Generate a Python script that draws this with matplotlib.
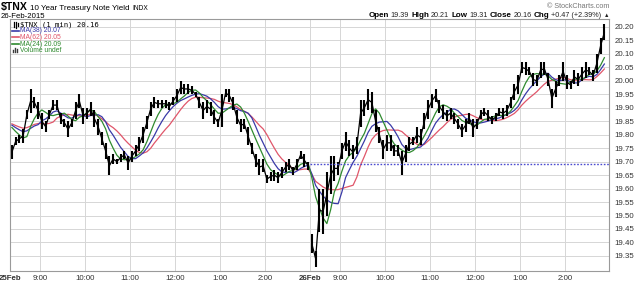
import numpy as np
import pandas as pd
import matplotlib
matplotlib.use('Agg')
import matplotlib.pyplot as plt

# 5-minute high / low of the 1-min $TNX bars
# 25-Feb, 8:20 am - 3:00 pm
hi_25 = [19.76, 19.79, 19.80, 19.82, 19.89, 19.97, 19.94, 19.92, 19.88, 19.85,
         19.89, 19.93, 19.93, 19.88, 19.86, 19.85, 19.86, 19.92, 19.95, 19.90,
         19.90, 19.92, 19.89, 19.86, 19.81, 19.77, 19.72, 19.73, 19.71, 19.73,
         19.74, 19.72, 19.74, 19.76, 19.79, 19.83, 19.87, 19.92, 19.94, 19.93,
         19.93, 19.93, 19.92, 19.94, 19.97, 20.00, 19.99, 19.99, 19.98, 19.96,
         19.94, 19.92, 19.93, 19.92, 19.89, 19.86, 19.95, 19.97, 19.97, 19.94,
         19.89, 19.86, 19.86, 19.83, 19.77, 19.73, 19.71, 19.71, 19.65, 19.66,
         19.67, 19.66, 19.68, 19.70, 19.71, 19.68, 19.71, 19.74, 19.73, 19.70]
lo_25 = [19.71, 19.76, 19.77, 19.77, 19.86, 19.88, 19.90, 19.86, 19.82, 19.81,
         19.86, 19.89, 19.89, 19.84, 19.83, 19.79, 19.83, 19.86, 19.90, 19.84,
         19.86, 19.87, 19.83, 19.80, 19.76, 19.71, 19.65, 19.69, 19.69, 19.70,
         19.71, 19.67, 19.70, 19.72, 19.74, 19.77, 19.82, 19.87, 19.90, 19.90,
         19.90, 19.90, 19.89, 19.91, 19.92, 19.95, 19.95, 19.95, 19.95, 19.94,
         19.90, 19.86, 19.88, 19.87, 19.84, 19.83, 19.83, 19.94, 19.92, 19.89,
         19.84, 19.81, 19.82, 19.76, 19.73, 19.68, 19.65, 19.66, 19.62, 19.63,
         19.63, 19.62, 19.64, 19.66, 19.67, 19.65, 19.67, 19.71, 19.68, 19.67]

# 26-Feb, 8:20 am - about 2:55 pm
hi_26 = [19.43, 19.37, 19.60, 19.60, 19.66, 19.72, 19.72, 19.70, 19.77, 19.81,
         19.78, 19.76, 19.79, 19.93, 19.93, 19.97, 19.96, 19.89, 19.83, 19.78,
         19.80, 19.80, 19.76, 19.76, 19.74, 19.76, 19.79, 19.79, 19.83, 19.82,
         19.88, 19.93, 19.95, 19.97, 19.93, 19.91, 19.89, 19.90, 19.88, 19.86,
         19.84, 19.86, 19.88, 19.86, 19.86, 19.89, 19.90, 19.89, 19.87, 19.88,
         19.90, 19.90, 19.91, 19.94, 19.99, 20.02, 20.07, 20.07, 20.05, 20.03,
         20.02, 20.07, 20.07, 20.03, 19.97, 20.00, 20.02, 20.07, 20.02, 20.00,
         20.04, 20.03, 20.05, 20.07, 20.05, 20.04, 20.10, 20.16, 20.21]
lo_26 = [19.36, 19.31, 19.44, 19.43, 19.50, 19.58, 19.63, 19.65, 19.71, 19.74,
         19.72, 19.71, 19.73, 19.83, 19.87, 19.89, 19.88, 19.81, 19.77, 19.71,
         19.74, 19.74, 19.72, 19.72, 19.65, 19.70, 19.74, 19.76, 19.77, 19.76,
         19.82, 19.86, 19.90, 19.92, 19.88, 19.86, 19.85, 19.86, 19.84, 19.82,
         19.79, 19.81, 19.84, 19.79, 19.82, 19.86, 19.87, 19.85, 19.84, 19.85,
         19.87, 19.86, 19.87, 19.90, 19.93, 19.95, 20.03, 20.02, 20.02, 19.98,
         19.98, 20.01, 20.02, 19.98, 19.90, 19.94, 19.98, 20.00, 19.97, 19.97,
         19.99, 19.98, 20.00, 20.01, 20.02, 20.00, 20.03, 20.10, 20.15]

ma_start = 19.85      # level of the averages at the left edge
prev_close = 19.69    # dotted line on 26-Feb

tick_pos = [0, 40, 100, 160, 220, 280, 340, 400, 440, 500, 560, 620, 680, 740]
tick_lab = ['25Feb', '9:00', '10:00', '11:00', '12:00', '1:00', '2:00',
            '26Feb', '9:00', '10:00', '11:00', '12:00', '1:00', '2:00']

# minutes from 25-Feb 8:20 (each session is 400 min wide)
x25 = np.arange(len(hi_25)) * 5 + 2.5
x26 = 400 + np.arange(len(hi_26)) * 5 + 2.5
hi = np.array(hi_25 + hi_26)
lo = np.array(lo_25 + lo_26)
xx = np.concatenate([x25, x26])
mid = pd.Series([ma_start] * 12 + list((hi + lo) / 2))

ma24 = mid.rolling(5).mean().iloc[12:].values
ma38 = mid.rolling(8).mean().iloc[12:].values
ma62 = mid.rolling(12).mean().iloc[12:].values

W, H = 640, 284
fig = plt.figure(figsize=(W / 100, H / 100), dpi=100)
fig.patch.set_facecolor('white')
ax = fig.add_axes([10 / W, 1 - 271 / H, 599 / W, 252 / H])

ax.set_xlim(0, 798.7)
ax.set_ylim(19.294, 20.2297)

yt = np.round(np.arange(19.35, 20.201, 0.05), 2)
ax.set_yticks(yt)
ax.set_yticklabels(['%.2f' % v for v in yt])
ax.yaxis.tick_right()
ax.set_xticks(tick_pos)
ax.set_xticklabels(tick_lab)
for lab in ax.get_xticklabels():
    if 'Feb' in lab.get_text():
        lab.set_fontweight('bold')
ax.tick_params(axis='both', length=0, labelsize=5.7, colors='#333333')
ax.tick_params(axis='y', pad=4)
ax.tick_params(axis='x', pad=3)
for lab in ax.get_xticklabels() + ax.get_yticklabels():
    lab.set_family('Liberation Sans')

ax.grid(True, color='#d6d6d6', lw=0.7)
ax.set_axisbelow(True)
for s in ax.spines.values():
    s.set_color('#9a9a9a')
    s.set_linewidth(0.8)

# moving averages
ax.plot(xx, ma62, color='#e0566a', lw=0.9)
ax.plot(xx, ma38, color='#3a3aa8', lw=0.9)
ax.plot(xx, ma24, color='#2f8a2f', lw=0.9)

# price bars
ax.vlines(xx, lo, hi, color='black', lw=1.5)
ax.plot(x25, (np.array(hi_25) + np.array(lo_25)) / 2, color='black', lw=0.9)
ax.plot(x26, (np.array(hi_26) + np.array(lo_26)) / 2, color='black', lw=0.9)

ax.hlines(prev_close, 400, 798.7, colors='#4a4ad0', lw=1.0, linestyles=(0, (1.2, 1.2)))

# header texts
fig.canvas.draw()
rend = fig.canvas.get_renderer()


def put_row(x, y, parts, right=False):
    objs = []
    cx = x
    for s, size, weight, color, gap in parts:
        t = fig.text(cx / W, 1 - y / H, s, fontsize=size, fontweight=weight,
                     color=color, family='Liberation Sans', va='baseline')
        cx += t.get_window_extent(rend).width + gap
        objs.append(t)
    if right:
        shift = cx - x
        for t in objs:
            px, py = t.get_position()
            t.set_position((px - shift / W, py))


put_row(1, 10, [('$TNX', 7.6, 'bold', 'black', 2.5),
                ('10 Year Treasury Note Yield', 5.8, 'normal', 'black', 2.5),
                ('INDX', 4.8, 'normal', 'black', 0)])
fig.text(1 / W, 1 - 17.5 / H, '26-Feb-2015', fontsize=5.6, family='Liberation Sans',
         va='baseline', color='black')
put_row(609, 8, [('\u00a9 StockCharts.com', 5.2, 'normal', '#777777', 0)], right=True)
put_row(609, 17, [('Open', 5.8, 'bold', 'black', 1.5), ('19.39', 5.2, 'normal', '#222222', 2.5),
                  ('High', 5.8, 'bold', 'black', 1.5), ('20.21', 5.2, 'normal', '#222222', 2.5),
                  ('Low', 5.8, 'bold', 'black', 1.5), ('19.31', 5.2, 'normal', '#222222', 2.5),
                  ('Close', 5.8, 'bold', 'black', 1.5), ('20.16', 5.2, 'normal', '#222222', 2.5),
                  ('Chg', 5.8, 'bold', 'black', 1.5), ('+0.47 (+2.39%)', 5.2, 'normal', '#222222', 2),
                  ('\u25b2', 4.0, 'normal', '#222222', 0)], right=True)

# legend inside the plot
lx = 12
for i, (b, t) in enumerate([(22, 26.5), (21.5, 27.5), (23, 26)]):
    fig.add_artist(plt.Line2D([(lx + 1.5 + i * 2) / W] * 2, [1 - t / H, 1 - b / H],
                              color='black', lw=0.9))
fig.text(20 / W, 1 - 26.5 / H, '$TNX (1 min) 20.16', fontsize=5.2,
         family='DejaVu Sans Mono', va='baseline', color='black')
leg = [('MA(38) 20.07', '#3a3aa8', 32.5), ('MA(62) 20.05', '#e0566a', 39),
       ('MA(24) 20.09', '#2f8a2f', 45.5)]
for txt, col, y in leg:
    fig.add_artist(plt.Line2D([lx / W, 19 / W], [1 - (y - 2) / H] * 2, color=col, lw=1.2))
    fig.text(20 / W, 1 - y / H, txt, fontsize=4.9, family='Liberation Sans',
             va='baseline', color=col)
for i, hgt in enumerate([2, 4, 3]):
    fig.add_artist(plt.Line2D([(lx + 1 + i * 2) / W] * 2, [1 - 52 / H, 1 - (52 - hgt) / H],
                              color='#3a3a3a', lw=1.0))
fig.text(20 / W, 1 - 52 / H, 'Volume undef', fontsize=4.9, family='Liberation Sans',
         va='baseline', color='#2f8a2f')

fig.savefig('out.png', dpi=100, facecolor='white')
